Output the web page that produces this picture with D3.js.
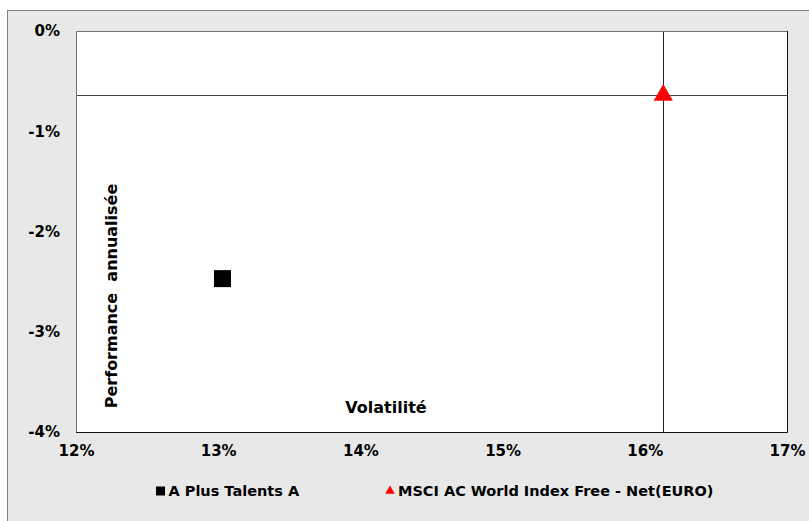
<!DOCTYPE html>
<html>
<head>
<meta charset="utf-8">
<script src="https://cdn.jsdelivr.net/npm/d3@7"></script>
<style>
	body { margin: 0; background: #fff; }
	text { font-family: "DejaVu Sans", Verdana, sans-serif; font-weight: bold; fill: #000; }
</style>
</head>
<body>
<svg id="chart" width="809" height="521"></svg>
<script>
'use strict';

// axis ticks (percent)
var xTicks = [12, 13, 14, 15, 16, 17];
var yTicks = [0, -1, -2, -3, -4];

// series: volatility / annualised performance, in percent
var seriesNames = ['A Plus Talents A', 'MSCI AC World Index Free - Net(EURO)'];
var seriesVol = [13.03, 16.13];
var seriesPerf = [-2.47, -0.64];
var seriesShape = ['square', 'triangle'];
var seriesColor = ['#000000', '#ff0000'];

var svg = d3.select('#chart');

var plot = { left: 76, top: 31, right: 787, bottom: 432 };

var x = d3.scaleLinear().domain([12, 17]).range([plot.left, plot.right]);
var y = d3.scaleLinear().domain([-4, 0]).range([plot.bottom, plot.top]);

// outer frame
svg.append('rect')
	.attr('x', 7.5).attr('y', 10.5)
	.attr('width', 820).attr('height', 530)
	.attr('fill', '#e8e8e8')
	.attr('stroke', '#808080')
	.attr('stroke-width', 1);

// plot area
svg.append('rect')
	.attr('x', plot.left).attr('y', plot.top)
	.attr('width', plot.right - plot.left).attr('height', plot.bottom - plot.top)
	.attr('fill', '#fff');

var g = svg.append('g');

// benchmark cross lines
var bench = 1;
g.append('line')
	.attr('x1', plot.left).attr('x2', plot.right)
	.attr('y1', Math.round(y(seriesPerf[bench])) + 0.5)
	.attr('y2', Math.round(y(seriesPerf[bench])) + 0.5)
	.attr('stroke', '#444').attr('stroke-width', 1);
g.append('line')
	.attr('y1', plot.top).attr('y2', plot.bottom)
	.attr('x1', Math.round(x(seriesVol[bench])) + 0.5)
	.attr('x2', Math.round(x(seriesVol[bench])) + 0.5)
	.attr('stroke', '#222').attr('stroke-width', 1);

// plot borders
g.append('path')
	.attr('d', 'M' + (plot.left + 0.5) + ',' + plot.bottom + 'V' + (plot.top + 0.5) + 'H' + plot.right)
	.attr('fill', 'none').attr('stroke', '#707070');
g.append('path')
	.attr('d', 'M' + plot.left + ',' + (plot.bottom + 0.5) + 'H' + (plot.right + 0.5) + 'V' + plot.top)
	.attr('fill', 'none').attr('stroke', '#111');

// axes
var xAxis = d3.axisBottom(x).tickValues(xTicks).tickSize(0).tickPadding(13)
	.tickFormat(function(d) { return d + '%'; });
var yAxis = d3.axisLeft(y).tickValues(yTicks).tickSize(0).tickPadding(16)
	.tickFormat(function(d) { return d + '%'; });

var gx = svg.append('g').attr('transform', 'translate(0,' + plot.bottom + ')').call(xAxis);
var gy = svg.append('g').attr('transform', 'translate(' + plot.left + ',0)').call(yAxis);
[gx, gy].forEach(function(a) {
	a.select('.domain').remove();
	a.selectAll('text')
		.attr('font-family', '"DejaVu Sans", Verdana, sans-serif')
		.attr('font-weight', 'bold')
		.attr('font-size', 15)
		.attr('fill', '#000');
});

// axis titles
svg.append('text')
	.attr('transform', 'translate(117,296) rotate(-90)')
	.attr('text-anchor', 'middle')
	.attr('font-size', 16)
	.style('white-space', 'pre')
	.text('Performance  annualisée');
svg.append('text')
	.attr('x', 386).attr('y', 413)
	.attr('text-anchor', 'middle')
	.attr('font-size', 16)
	.text('Volatilité');

// markers
var symbolFor = function(shape) {
	return shape === 'square' ? d3.symbolSquare : d3.symbolTriangle;
};
g.selectAll('path.pt')
	.data(seriesNames)
	.enter()
	.append('path')
	.attr('class', 'pt')
	.attr('transform', function(d, i) { return 'translate(' + x(seriesVol[i]) + ',' + y(seriesPerf[i]) + ')'; })
	.attr('d', function(d, i) { return d3.symbol().type(symbolFor(seriesShape[i])).size(seriesShape[i] === 'square' ? 289 : 160)(); })
	.attr('fill', function(d, i) { return seriesColor[i]; });

// legend
var legendX = [160.5, 390];
var legend = svg.selectAll('g.legend')
	.data(seriesNames)
	.enter()
	.append('g')
	.attr('class', 'legend')
	.attr('transform', function(d, i) { return 'translate(' + legendX[i] + ',491)'; });
legend.append('path')
	.attr('d', function(d, i) { return d3.symbol().type(symbolFor(seriesShape[i])).size(seriesShape[i] === 'square' ? 81 : 40)(); })
	.attr('fill', function(d, i) { return seriesColor[i]; });
legend.append('text')
	.attr('x', 8)
	.attr('dy', '0.35em')
	.attr('font-size', 14.5)
	.text(function(d) { return d; });
</script>
</body>
</html>
